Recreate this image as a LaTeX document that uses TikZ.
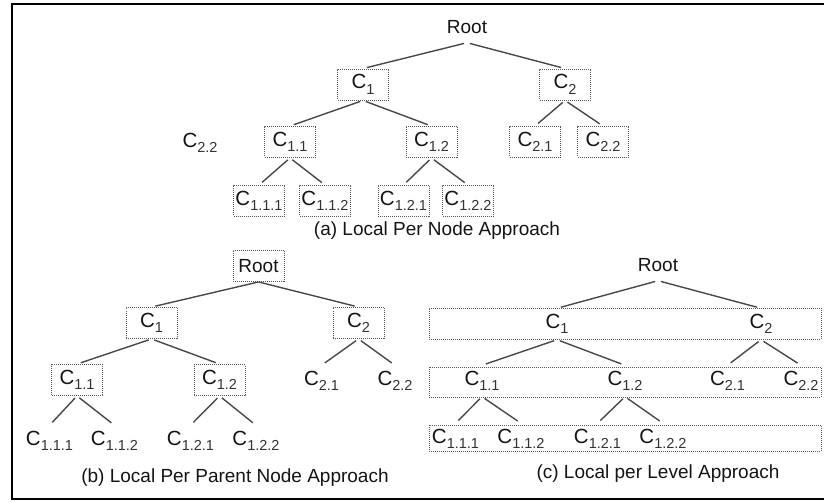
\documentclass[tikz,border=0pt]{standalone}
\usepackage{fontspec}
\setmainfont{Liberation Sans}
\definecolor{txt}{HTML}{141414}
\definecolor{subgray}{HTML}{333333}
\definecolor{linegray}{HTML}{484848}
\definecolor{boxgray}{HTML}{5A5A5A}
\newcommand\Csub[1]{C\raisebox{-5.5pt}{\fontsize{14.5}{14.5}\selectfont\color{subgray}#1}}
\begin{document}
\begin{tikzpicture}[x=1pt,y=-1pt,
  cn/.style={minimum width=51pt, minimum height=31pt, inner sep=0pt, text=txt, font=\fontsize{20.5}{20.5}\selectfont},
  dbox/.style={draw=boxgray, line width=0.9pt, dash pattern=on 1pt off 1pt},
  treeline/.style={draw=linegray, line width=1.4pt, shorten <=3pt, shorten >=4pt},
  lbl/.style={text=txt, font=\fontsize{19}{19}\selectfont, inner sep=0pt},
  rootn/.style={cn, font=\fontsize{19}{19}\selectfont},
]
\useasboundingbox (0,0) rectangle (824,502);
% frame
\draw[line width=1.5pt, black] (824,4) -- (12,4) -- (12,499) -- (824,499);

% ---------- (a) Local Per Node ----------
\node[rootn] (aR) at (467,27) {Root};
\node[cn,dbox] (a1) at (363,84.5) {\Csub{1}};
\node[cn,dbox] (a2) at (565,84.5) {\Csub{2}};
\node[cn,dbox] (a11) at (290,142) {\Csub{1.1}};
\node[cn,dbox] (a12) at (431.5,142) {\Csub{1.2}};
\node[cn,dbox] (a21) at (535,142) {\Csub{2.1}};
\node[cn,dbox] (a22) at (603,142) {\Csub{2.2}};
\node[cn,dbox] (a111) at (259,201) {\Csub{1.1.1}};
\node[cn,dbox] (a112) at (325,201) {\Csub{1.1.2}};
\node[cn,dbox] (a121) at (403.5,201) {\Csub{1.2.1}};
\node[cn,dbox] (a122) at (468,201) {\Csub{1.2.2}};
\node[cn] (astray) at (200,143) {\Csub{2.2}};
\node[lbl] (capa) at (437,231) {(a) Local Per Node Approach};
\draw[treeline] (aR.south) -- (a1.north);
\draw[treeline] (aR.south) -- (a2.north);
\draw[treeline] (a1.south) -- (a11.north);
\draw[treeline] (a1.south) -- (a12.north);
\draw[treeline] (a2.south) -- (a21.north);
\draw[treeline] (a2.south) -- (a22.north);
\draw[treeline] (a11.south) -- (a111.north);
\draw[treeline] (a11.south) -- (a112.north);
\draw[treeline] (a12.south) -- (a121.north);
\draw[treeline] (a12.south) -- (a122.north);

% ---------- (b) Local Per Parent Node ----------
\node[rootn,dbox] (bR) at (258.5,266) {Root};
\node[cn,dbox] (b1) at (151.5,323) {\Csub{1}};
\node[cn,dbox] (b2) at (358.5,323) {\Csub{2}};
\node[cn,dbox] (b11) at (77,380) {\Csub{1.1}};
\node[cn,dbox] (b12) at (219.5,380) {\Csub{1.2}};
\node[cn] (b21) at (321.5,381) {\Csub{2.1}};
\node[cn] (b22) at (395,381) {\Csub{2.2}};
\node[cn] (b111) at (49.5,441) {\Csub{1.1.1}};
\node[cn] (b112) at (114.5,441) {\Csub{1.1.2}};
\node[cn] (b121) at (190.5,441) {\Csub{1.2.1}};
\node[cn] (b122) at (256,441) {\Csub{1.2.2}};
\node[lbl] (capb) at (235,478) {(b) Local Per Parent Node Approach};
\draw[treeline, shorten <=0pt] (bR.south) -- (b1.north);
\draw[treeline, shorten <=0pt] (bR.south) -- (b2.north);
\draw[treeline] (b1.south) -- (b11.north);
\draw[treeline] (b1.south) -- (b12.north);
\draw[treeline] (b2.south) -- (b21.north);
\draw[treeline] (b2.south) -- (b22.north);
\draw[treeline] (b11.south) -- (b111.north);
\draw[treeline] (b11.south) -- (b112.north);
\draw[treeline] (b12.south) -- (b121.north);
\draw[treeline] (b12.south) -- (b122.north);

% ---------- (c) Local per Level ----------
\node[dbox, minimum width=392pt, minimum height=31pt, inner sep=0pt] (L1) at (625,323.5) {};
\node[dbox, minimum width=392pt, minimum height=30pt, inner sep=0pt] (L2) at (625,382) {};
\node[dbox, minimum width=392pt, minimum height=26pt, inner sep=0pt] (L3) at (625,438) {};
\node[rootn] (cR) at (658,265) {Root};
\node[cn] (c1) at (557,324) {\Csub{1}};
\node[cn] (c2) at (761,324) {\Csub{2}};
\node[cn] (c11) at (482,381) {\Csub{1.1}};
\node[cn] (c12) at (625,381) {\Csub{1.2}};
\node[cn] (c21) at (727.5,381) {\Csub{2.1}};
\node[cn] (c22) at (801,381) {\Csub{2.2}};
\node[cn] (c111) at (455.5,439) {\Csub{1.1.1}};
\node[cn] (c112) at (521,439) {\Csub{1.1.2}};
\node[cn] (c121) at (597.5,439) {\Csub{1.2.1}};
\node[cn] (c122) at (663,439) {\Csub{1.2.2}};
\node[lbl] (capc) at (658,474) {(c) Local per Level Approach};
\draw[treeline] (cR.south) -- (c1.north);
\draw[treeline] (cR.south) -- (c2.north);
\draw[treeline] (c1.south) -- (c11.north);
\draw[treeline] (c1.south) -- (c12.north);
\draw[treeline] (c2.south) -- (c21.north);
\draw[treeline] (c2.south) -- (c22.north);
\draw[treeline] (c11.south) -- (c111.north);
\draw[treeline] (c11.south) -- (c112.north);
\draw[treeline] (c12.south) -- (c121.north);
\draw[treeline] (c12.south) -- (c122.north);
\end{tikzpicture}
\end{document}
